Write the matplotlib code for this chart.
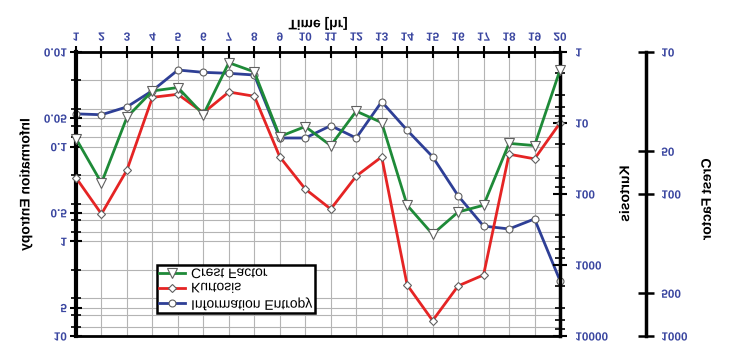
import matplotlib
matplotlib.use('Agg')
import matplotlib.pyplot as plt
from matplotlib.patheffects import AbstractPathEffect
from matplotlib.transforms import Affine2D
from matplotlib.ticker import FixedLocator, FixedFormatter, LogLocator, NullLocator, NullFormatter
from matplotlib.text import Text

hours = list(range(1, 21))
entropy = [0.045, 0.046, 0.038, 0.0256, 0.0155, 0.0164, 0.0168, 0.0175, 0.081, 0.081,
           0.060, 0.081, 0.0335, 0.067, 0.128, 0.33, 0.69, 0.74, 0.58, 2.6]
kurtosis = [59, 191, 46, 4.35, 3.94, 7.2, 3.66, 4.2, 30, 85,
            163, 56, 30, 1910, 6070, 1970, 1380, 27.5, 32, 10]
crest = [40.7, 83.6, 28.8, 18.8, 17.8, 27.6, 11.9, 13.8, 39.4, 33.5,
         45.6, 26.1, 31.4, 120, 192, 134, 120, 44, 45.6, 13.4]

entropy_ticks = [0.01, 0.05, 0.1, 0.5, 1, 5, 10]
entropy_labels = ['0.01', '0.05', '0.1', '0.5', '1', '5', '10']
kurt_ticks = [1, 10, 100, 1000, 10000]
kurt_labels = ['1', '10', '100', '1000', '10000']
crest_ticks = [10, 50, 100, 500, 1000]
crest_labels = ['10', '50', '100', '500', '1000']

plt.rcParams['font.family'] = ['Liberation Sans', 'DejaVu Sans']

TICK_COLOR = '#3a46a0'
BLUE = '#2e3f96'
RED = '#e52424'
GREEN = '#1e8a38'


class FlipText(AbstractPathEffect):
    # mirror each text run top-to-bottom around its own centre
    def draw_path(self, renderer, gc, tpath, affine, rgbFace=None):
        ext = tpath.get_extents(affine)
        cy = 0.5 * (ext.y0 + ext.y1)
        flip = affine + Affine2D().translate(0, -cy).scale(1, -1).translate(0, cy)
        renderer.draw_path(gc, tpath, flip, rgbFace)


fig = plt.figure(figsize=(7.49, 3.53), dpi=100)
ax = fig.add_axes([76 / 749, 17 / 353, 484 / 749, 284 / 353])

# left axis: information entropy
ax.set_yscale('log')
ax.set_ylim(10, 0.01)
ax.set_xlim(1, 20)
ax.yaxis.set_major_locator(FixedLocator(entropy_ticks))
ax.yaxis.set_major_formatter(FixedFormatter(entropy_labels))
ax.yaxis.set_minor_locator(LogLocator(base=10, subs=(2, 4, 6, 8)))
ax.yaxis.set_minor_formatter(NullFormatter())
ax.xaxis.tick_top()
ax.xaxis.set_label_position('top')
ax.set_xticks(hours)
ax.set_xticklabels([str(h) for h in hours])
ax.grid(True, which='both', color='#b4b4b4', lw=0.8)
ax.set_axisbelow(True)
ax.tick_params(axis='x', direction='inout', length=8, width=1.5, pad=2,
               labelsize=8.5, labelcolor=TICK_COLOR)
ax.tick_params(axis='y', which='major', direction='inout', length=9, width=1.5, pad=2,
               labelsize=8.5, labelcolor=TICK_COLOR)
ax.tick_params(axis='y', which='minor', direction='inout', length=7, width=1.2)
for lbl in ax.get_xticklabels() + ax.get_yticklabels():
    lbl.set_fontweight('bold')
ax.spines['left'].set_linewidth(3)
ax.spines['top'].set_linewidth(2)
ax.spines['bottom'].set_linewidth(2)
ax.spines['right'].set_visible(False)
ax.set_xlabel('Time [hr]', fontsize=10, fontweight='bold')
ax.xaxis.set_label_coords(0.5, 1.088)
ax.set_ylabel('Information Entropy', fontsize=10, fontweight='bold')
ax.yaxis.set_label_coords(-0.09, 0.53)

# right axis: kurtosis
ax2 = ax.twinx()
ax2.set_yscale('log')
ax2.set_ylim(10000, 1)
ax2.yaxis.set_major_locator(FixedLocator(kurt_ticks))
ax2.yaxis.set_major_formatter(FixedFormatter(kurt_labels))
ax2.yaxis.set_minor_locator(LogLocator(base=10, subs=(2, 4, 6, 8)))
ax2.yaxis.set_minor_formatter(NullFormatter())
ax2.tick_params(axis='y', which='major', direction='inout', length=10, width=1.5, pad=6,
                labelsize=8.5, labelcolor=TICK_COLOR)
ax2.tick_params(axis='y', which='minor', direction='inout', length=7, width=1.2)
for lbl in ax2.get_yticklabels():
    lbl.set_fontweight('bold')
for s in ['left', 'top', 'bottom']:
    ax2.spines[s].set_visible(False)
ax2.spines['right'].set_linewidth(2.5)
ax2.set_ylabel('Kurtosis', fontsize=10, fontweight='bold')
ax2.yaxis.set_label_coords(1.12, 0.5)

# outer right axis: crest factor
ax3 = ax.twinx()
ax3.set_yscale('log')
ax3.set_ylim(1000, 10)
ax3.spines['right'].set_position(('axes', (646 - 76) / 484))
ax3.yaxis.set_major_locator(FixedLocator(crest_ticks))
ax3.yaxis.set_major_formatter(FixedFormatter(crest_labels))
ax3.yaxis.set_minor_locator(NullLocator())
ax3.tick_params(axis='y', which='major', direction='inout', length=12, width=1.8, pad=5,
                labelsize=8.5, labelcolor=TICK_COLOR)
for lbl in ax3.get_yticklabels():
    lbl.set_fontweight('bold')
for s in ['left', 'top', 'bottom']:
    ax3.spines[s].set_visible(False)
ax3.spines['right'].set_linewidth(2.5)
ax3.set_ylabel('Crest Factor', fontsize=10, fontweight='bold')
ax3.yaxis.set_label_coords(1.289, 0.48)

mk = dict(markerfacecolor='white', markeredgecolor='#606060', markeredgewidth=0.8,
          clip_on=False, lw=2)
l_info, = ax.plot(hours, entropy, color=BLUE, marker='o', markersize=5, label='Information Entropy', **mk)
l_kurt, = ax2.plot(hours, kurtosis, color=RED, marker='D', markersize=4.5, label='Kurtosis', **mk)
l_crest, = ax3.plot(hours, crest, color=GREEN, marker='v', markersize=6.5, label='Crest Factor', **mk)

leg = ax3.legend([l_crest, l_kurt, l_info], ['Crest Factor', 'Kurtosis', 'Information Entropy'],
                 loc='upper left', bbox_to_anchor=((157 - 76) / 484, (336 - 265) / 284),
                 borderaxespad=0, fancybox=False, framealpha=1, edgecolor='black',
                 fontsize=10, borderpad=0.15, labelspacing=0.05, handletextpad=0.4,
                 handlelength=1.9)
leg.get_frame().set_linewidth(1.8)

fig.canvas.draw()
for t in fig.findobj(Text):
    t.set_path_effects([FlipText()])

fig.savefig('out.png', dpi=100)
